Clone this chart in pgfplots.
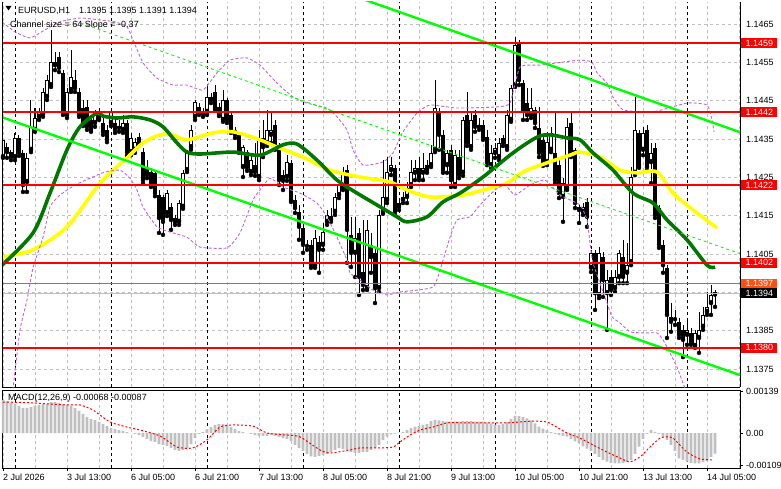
\documentclass[border=0pt]{standalone}
\usepackage{fontspec}
\setmainfont{Liberation Sans}
\usepackage{pgfplots}
\usepackage{pgfplotstable}
\pgfplotsset{compat=1.18}
\definecolor{chLime}{RGB}{0,255,0}
\definecolor{maGreen}{RGB}{0,120,0}
\definecolor{maYellow}{RGB}{255,255,0}
\definecolor{bandPurple}{RGB}{190,100,230}
\definecolor{gridGray}{RGB}{192,192,192}
\definecolor{lvlRed}{RGB}{255,0,0}
\definecolor{lvlOrange}{RGB}{255,80,20}
\definecolor{histGray}{RGB}{192,192,192}
\tikzset{lvlbox/.style={anchor=west, text=white, inner xsep=4.3pt, inner ysep=0pt, minimum height=9.6pt}}

\pgfplotstableread{
k O H L C
0 1.14303 1.14366 1.14301 1.14348
1 1.14329 1.14340 1.14301 1.14316
2 1.14316 1.14322 1.14295 1.14303
3 1.14303 1.14366 1.14295 1.14353
4 1.14353 1.14361 1.14306 1.14314
5 1.14314 1.14322 1.14212 1.14230
6 1.14238 1.14314 1.14212 1.14301
7 1.14322 1.14452 1.14316 1.14382
8 1.14374 1.14431 1.14369 1.14405
9 1.14408 1.14431 1.14400 1.14421
10 1.14413 1.14483 1.14408 1.14473
11 1.14460 1.14517 1.14452 1.14504
12 1.14491 1.14635 1.14486 1.14551
13 1.14543 1.14577 1.14530 1.14551
14 1.14564 1.14577 1.14525 1.14536
15 1.14523 1.14530 1.14413 1.14421
16 1.14413 1.14483 1.14405 1.14473
17 1.14478 1.14583 1.14473 1.14512
18 1.14504 1.14530 1.14473 1.14483
19 1.14473 1.14483 1.14408 1.14413
20 1.14431 1.14452 1.14384 1.14392
21 1.14434 1.14452 1.14374 1.14382
22 1.14400 1.14413 1.14369 1.14374
23 1.14392 1.14426 1.14382 1.14413
24 1.14405 1.14431 1.14400 1.14421
25 1.14392 1.14405 1.14361 1.14369
26 1.14374 1.14387 1.14342 1.14348
27 1.14392 1.14431 1.14384 1.14421
28 1.14392 1.14405 1.14366 1.14374
29 1.14384 1.14400 1.14369 1.14379
30 1.14374 1.14413 1.14366 1.14392
31 1.14392 1.14400 1.14308 1.14316
32 1.14316 1.14366 1.14308 1.14353
33 1.14322 1.14353 1.14314 1.14342
34 1.14355 1.14366 1.14335 1.14342
35 1.14316 1.14327 1.14235 1.14243
36 1.14277 1.14295 1.14248 1.14256
37 1.14264 1.14275 1.14225 1.14235
38 1.14262 1.14269 1.14201 1.14209
39 1.14204 1.14217 1.14105 1.14144
40 1.14199 1.14204 1.14100 1.14134
41 1.14157 1.14217 1.14149 1.14209
42 1.14173 1.14183 1.14113 1.14139
43 1.14134 1.14152 1.14126 1.14144
44 1.14134 1.14191 1.14126 1.14183
45 1.14173 1.14269 1.14168 1.14262
46 1.14269 1.14322 1.14264 1.14314
47 1.14329 1.14387 1.14322 1.14374
48 1.14408 1.14452 1.14400 1.14447
49 1.14434 1.14444 1.14413 1.14421
50 1.14421 1.14431 1.14408 1.14416
51 1.14421 1.14486 1.14413 1.14460
52 1.14452 1.14470 1.14444 1.14460
53 1.14473 1.14491 1.14426 1.14431
54 1.14434 1.14444 1.14410 1.14418
55 1.14400 1.14478 1.14395 1.14452
56 1.14452 1.14457 1.14392 1.14400
57 1.14413 1.14421 1.14366 1.14374
58 1.14374 1.14382 1.14353 1.14361
59 1.14361 1.14369 1.14314 1.14322
60 1.14277 1.14335 1.14251 1.14329
61 1.14316 1.14322 1.14267 1.14275
62 1.14264 1.14308 1.14256 1.14295
63 1.14282 1.14340 1.14254 1.14264
64 1.14251 1.14374 1.14243 1.14353
65 1.14353 1.14400 1.14303 1.14329
66 1.14340 1.14426 1.14332 1.14374
67 1.14361 1.14421 1.14340 1.14374
68 1.14387 1.14400 1.14322 1.14335
69 1.14335 1.14340 1.14230 1.14243
70 1.14256 1.14269 1.14217 1.14241
71 1.14251 1.14308 1.14241 1.14290
72 1.14288 1.14295 1.14186 1.14191
73 1.14191 1.14204 1.14157 1.14170
74 1.14160 1.14178 1.14087 1.14121
75 1.14118 1.14126 1.14053 1.14074
76 1.14074 1.14087 1.14061 1.14071
77 1.14074 1.14087 1.14014 1.14021
78 1.14021 1.14113 1.14014 1.14092
79 1.14081 1.14097 1.14001 1.14061
80 1.14074 1.14131 1.14061 1.14108
81 1.14134 1.14165 1.14126 1.14152
82 1.14139 1.14170 1.14134 1.14149
83 1.14160 1.14209 1.14152 1.14199
84 1.14204 1.14243 1.14196 1.14230
85 1.14225 1.14277 1.14217 1.14264
86 1.14269 1.14282 1.14027 1.14113
87 1.14100 1.14147 1.14016 1.14053
88 1.14053 1.14147 1.13990 1.14092
89 1.14105 1.14118 1.13943 1.13990
90 1.14003 1.14139 1.13956 1.13969
91 1.13961 1.14139 1.13956 1.14113
92 1.14074 1.14105 1.14001 1.14042
93 1.14053 1.14066 1.13922 1.13961
94 1.13961 1.14165 1.13951 1.14152
95 1.14160 1.14295 1.14155 1.14199
96 1.14191 1.14303 1.14183 1.14264
97 1.14269 1.14303 1.14256 1.14282
98 1.14275 1.14282 1.14152 1.14160
99 1.14173 1.14196 1.14165 1.14183
100 1.14191 1.14212 1.14183 1.14199
101 1.14199 1.14238 1.14183 1.14222
102 1.14230 1.14295 1.14225 1.14264
103 1.14262 1.14295 1.14243 1.14275
104 1.14275 1.14303 1.14243 1.14251
105 1.14262 1.14314 1.14243 1.14275
106 1.14282 1.14295 1.14262 1.14269
107 1.14282 1.14335 1.14277 1.14314
108 1.14322 1.14504 1.14316 1.14431
109 1.14421 1.14431 1.14322 1.14361
110 1.14361 1.14374 1.14262 1.14269
111 1.14282 1.14322 1.14262 1.14314
112 1.14322 1.14335 1.14225 1.14243
113 1.14230 1.14322 1.14225 1.14308
114 1.14303 1.14322 1.14248 1.14256
115 1.14262 1.14408 1.14254 1.14400
116 1.14413 1.14473 1.14332 1.14340
117 1.14329 1.14418 1.14322 1.14400
118 1.14413 1.14426 1.14369 1.14382
119 1.14382 1.14405 1.14374 1.14387
120 1.14387 1.14400 1.14348 1.14355
121 1.14355 1.14374 1.14282 1.14290
122 1.14282 1.14335 1.14275 1.14314
123 1.14314 1.14340 1.14301 1.14327
124 1.14303 1.14353 1.14295 1.14340
125 1.14353 1.14361 1.14332 1.14340
126 1.14329 1.14426 1.14322 1.14413
127 1.14400 1.14491 1.14395 1.14483
128 1.14491 1.14616 1.14486 1.14596
129 1.14603 1.14609 1.14491 1.14504
130 1.14496 1.14504 1.14400 1.14426
131 1.14444 1.14483 1.14400 1.14413
132 1.14413 1.14483 1.14405 1.14431
133 1.14426 1.14434 1.14379 1.14392
134 1.14379 1.14434 1.14303 1.14314
135 1.14348 1.14361 1.14280 1.14288
136 1.14290 1.14369 1.14282 1.14342
137 1.14322 1.14382 1.14316 1.14366
138 1.14314 1.14421 1.14235 1.14243
139 1.14282 1.14295 1.14196 1.14209
140 1.14199 1.14248 1.14134 1.14235
141 1.14222 1.14405 1.14217 1.14382
142 1.14392 1.14418 1.14303 1.14314
143 1.14322 1.14327 1.14170 1.14183
144 1.14173 1.14178 1.14131 1.14165
145 1.14160 1.14183 1.14152 1.14173
146 1.14186 1.14196 1.14121 1.14147
147 1.14014 1.14061 1.14003 1.14053
148 1.14053 1.14061 1.13904 1.13948
149 1.13943 1.14068 1.13935 1.14053
150 1.14042 1.14055 1.13938 1.13982
151 1.13948 1.14008 1.13852 1.13982
152 1.13990 1.14008 1.13943 1.13956
153 1.13961 1.14008 1.13951 1.13990
154 1.13990 1.14061 1.13974 1.14053
155 1.14042 1.14087 1.13974 1.13990
156 1.14001 1.14079 1.13974 1.14021
157 1.14029 1.14277 1.14021 1.14251
158 1.14262 1.14460 1.14256 1.14374
159 1.14366 1.14374 1.14275 1.14282
160 1.14322 1.14382 1.14308 1.14366
161 1.14374 1.14387 1.14269 1.14277
162 1.14290 1.14340 1.14235 1.14314
163 1.14327 1.14340 1.14144 1.14152
164 1.14170 1.14178 1.14066 1.14074
165 1.14074 1.14087 1.14001 1.14021
166 1.14014 1.14021 1.13831 1.13891
167 1.13886 1.13922 1.13847 1.13873
168 1.13883 1.13904 1.13865 1.13880
169 1.13873 1.13883 1.13831 1.13839
170 1.13852 1.13865 1.13781 1.13826
171 1.13839 1.13883 1.13813 1.13852
172 1.13844 1.13857 1.13813 1.13820
173 1.13810 1.13852 1.13805 1.13844
174 1.13831 1.13899 1.13792 1.13852
175 1.13860 1.13912 1.13852 1.13891
176 1.13899 1.13951 1.13891 1.13912
177 1.13922 1.13969 1.13891 1.13943
178 1.13950 1.13955 1.13912 1.13944
}\candles

\pgfplotstableread{
k v
0 0.00111
1 0.00107
2 0.00101
3 0.00097
4 0.00091
5 0.00084
6 0.00084
7 0.00087
8 0.00091
9 0.00094
10 0.00097
11 0.00097
12 0.00104
13 0.00104
14 0.00101
15 0.00097
16 0.00094
17 0.00091
18 0.00084
19 0.00074
20 0.00064
21 0.00054
22 0.00047
23 0.00044
24 0.00037
25 0.00030
26 0.00023
27 0.00017
28 0.00013
29 0.00010
30 0.00007
31 0.00003
32 0.00000
33 -0.00003
34 -0.00007
35 -0.00013
36 -0.00020
37 -0.00027
38 -0.00030
39 -0.00037
40 -0.00040
41 -0.00044
42 -0.00050
43 -0.00057
44 -0.00060
45 -0.00057
46 -0.00050
47 -0.00037
48 -0.00017
49 -0.00003
50 0.00003
51 0.00013
52 0.00020
53 0.00027
54 0.00030
55 0.00030
56 0.00027
57 0.00020
58 0.00013
59 0.00007
60 0.00003
61 0.00000
62 -0.00003
63 -0.00007
64 -0.00010
65 -0.00010
66 -0.00010
67 -0.00007
68 -0.00010
69 -0.00013
70 -0.00017
71 -0.00020
72 -0.00027
73 -0.00040
74 -0.00050
75 -0.00060
76 -0.00070
77 -0.00078
78 -0.00080
79 -0.00077
80 -0.00074
81 -0.00070
82 -0.00063
83 -0.00057
84 -0.00051
85 -0.00054
86 -0.00057
87 -0.00063
88 -0.00067
89 -0.00067
90 -0.00063
91 -0.00063
92 -0.00057
93 -0.00051
94 -0.00040
95 -0.00023
96 -0.00012
97 -0.00005
98 -0.00002
99 0.00001
100 0.00004
101 0.00010
102 0.00016
103 0.00021
104 0.00024
105 0.00027
106 0.00030
107 0.00040
108 0.00044
109 0.00042
110 0.00040
111 0.00038
112 0.00038
113 0.00038
114 0.00038
115 0.00040
116 0.00040
117 0.00040
118 0.00038
119 0.00038
120 0.00038
121 0.00036
122 0.00032
123 0.00028
124 0.00027
125 0.00030
126 0.00037
127 0.00047
128 0.00057
129 0.00057
130 0.00053
131 0.00049
132 0.00042
133 0.00032
134 0.00021
135 0.00015
136 0.00010
137 0.00003
138 -0.00003
139 -0.00007
140 -0.00010
141 -0.00012
142 -0.00020
143 -0.00028
144 -0.00035
145 -0.00045
146 -0.00052
147 -0.00060
148 -0.00070
149 -0.00080
150 -0.00090
151 -0.00096
152 -0.00100
153 -0.00102
154 -0.00102
155 -0.00100
156 -0.00096
157 -0.00090
158 -0.00070
159 -0.00046
160 -0.00020
161 -0.00003
162 0.00010
163 0.00004
164 -0.00004
165 -0.00012
166 -0.00023
167 -0.00040
168 -0.00060
169 -0.00085
170 -0.00090
171 -0.00096
172 -0.00100
173 -0.00102
174 -0.00102
175 -0.00098
176 -0.00094
177 -0.00080
178 -0.00069
}\macdhist

\begin{document}
\fontsize{9}{10.5}\selectfont
\begin{tikzpicture}
\useasboundingbox (0pt,0pt) rectangle (781pt,489pt);
\fill[white] (0pt,0pt) rectangle (781pt,489pt);

% ---------------- main price panel ----------------
\begin{axis}[
  at={(2pt,101.5pt)}, anchor=south west,
  scale only axis, width=738pt, height=385.5pt,
  xmin=-0.25, xmax=184.25, ymin=1.137016, ymax=1.147078,
  axis x line*=bottom, axis y line*=right,
  axis line style={black, line width=0.8pt},
  clip mode=individual,
  xtick={0,8,...,184}, xticklabels={},
  xmajorgrids, ymajorgrids,
  grid style={gridGray, line width=0.8pt, dash pattern=on 3pt off 3pt},
  major tick length=0pt,
  ytick={1.1375,1.1385,1.1395,1.1405,1.1415,1.1425,1.1435,1.1445,1.1455,1.1465},
  yticklabels={1.1375,1.1385,{},1.1405,1.1415,1.1425,1.1435,1.1445,1.1455,1.1465},
  yticklabel style={xshift=3pt},
  scaled y ticks=false,
  extra x ticks={3,27,...,171}, extra x tick labels={},
  extra x tick style={grid style={black, line width=0.8pt, dash pattern=on 3pt off 3pt}},
]
% wicks
\addplot[only marks, mark=none, error bars/.cd, y dir=plus, y explicit, error mark=none,
  error bar style={black, line width=1pt}]
  table[x=k, y=L, y error expr=\thisrow{H}-\thisrow{L}] {\candles};
% bodies
\addplot[only marks, mark=none, error bars/.cd, y dir=plus, y explicit, error mark=none,
  error bar style={black, line width=3.2pt}]
  table[x=k, y expr={min(\thisrow{O},\thisrow{C})}, y error expr={max(abs(\thisrow{C}-\thisrow{O}),0.00003)}] {\candles};
% hollow bull bodies
\addplot[only marks, mark=none, restrict expr to domain={\thisrow{C}-\thisrow{O}}{0.00006:1},
  error bars/.cd, y dir=plus, y explicit, error mark=none,
  error bar style={white, line width=1.2pt}]
  table[x=k, y expr={\thisrow{O}+0.000026}, y error expr={\thisrow{C}-\thisrow{O}-0.000052}] {\candles};

% moving averages
\addplot[maYellow, line width=3.6pt, smooth, tension=0.5] coordinates {
(-0.25,1.14042) (7.5,1.14061) (16,1.14121) (24.25,1.14235) (31,1.14301) (35,1.14340) (39.25,1.14361) (42.5,1.14361) (46,1.14348) (52.5,1.14366) (57.5,1.14369) (64.25,1.14348) (68.5,1.14329) (75,1.14303) (81.75,1.14269) (89.25,1.14251) (96.75,1.14238) (101,1.14217) (106.75,1.14199) (115,1.14204) (120,1.14217) (126,1.14235) (130,1.14264) (136,1.14288) (141.75,1.14308) (144.25,1.14316) (149.25,1.14303) (154.25,1.14269) (158.5,1.14262) (163.5,1.14264) (167.5,1.14209) (172.5,1.14165) (178.5,1.14118)};
\addplot[maGreen, line width=3.6pt, smooth, tension=0.5] coordinates {
(-0.25,1.14021) (7.5,1.14105) (11.75,1.14209) (16,1.14322) (19.25,1.14382) (23.5,1.14418) (25,1.14410) (28.5,1.14405) (32.5,1.14408) (36.75,1.14400) (40,1.14382) (43.5,1.14340) (46,1.14316) (49.25,1.14311) (57.5,1.14316) (64.25,1.14308) (70,1.14335) (73.5,1.14337) (78.5,1.14295) (83.5,1.14243) (88.5,1.14209) (93.5,1.14178) (98.5,1.14147) (101,1.14134) (106,1.14147) (110,1.14186) (114.25,1.14209) (120,1.14251) (127.5,1.14314) (133.5,1.14355) (136.75,1.14361) (141,1.14353) (144.25,1.14348) (147.5,1.14314) (152.5,1.14269) (157.5,1.14209) (162.5,1.14183) (166,1.14139) (171,1.14087) (176,1.14021) (178,1.14016)};

% bands
\addplot[bandPurple, line width=0.9pt, dash pattern=on 3pt off 2pt, smooth, tension=0.3] coordinates {
(-0.25,1.14656) (3,1.14630) (6.75,1.14614) (10.5,1.14635) (14.25,1.14656) (19.25,1.14666) (24.25,1.14661) (28,1.14656) (31,1.14643) (32.5,1.14609) (35,1.14549) (38.5,1.14509) (42.5,1.14491) (46,1.14491) (50,1.14478) (53.5,1.14523) (56.75,1.14556) (61,1.14562) (64.25,1.14543) (68.5,1.14496) (72.5,1.14460) (76,1.14444) (81,1.14431) (83.5,1.14408) (86,1.14374) (87.5,1.14322) (90,1.14282) (95,1.14290) (97.5,1.14314) (100,1.14369) (103.5,1.14418) (106.75,1.14439) (113.5,1.14431) (123.5,1.14434) (126.75,1.14444) (129.25,1.14538) (134.25,1.14543) (140,1.14551) (144.25,1.14556) (147.25,1.14551) (148.5,1.14523) (151,1.14496) (152.5,1.14460) (155,1.14426) (162.5,1.14421) (171,1.14444) (176,1.14439) (177.25,1.14400) (177.75,1.14369)};
\addplot[bandPurple, line width=0.9pt, dash pattern=on 3pt off 2pt, smooth, tension=0.3] coordinates {
(1.75,1.13669) (2.5,1.13700) (4.25,1.13852) (6,1.13930) (7.5,1.14014) (10,1.14094) (11.75,1.14173) (14.25,1.14204) (18,1.14230) (21.75,1.14248) (25.5,1.14264) (29.25,1.14269) (31.75,1.14248) (33.5,1.14217) (35,1.14173) (38.5,1.14121) (42.5,1.14105) (46,1.14094) (49.25,1.14068) (56,1.14066) (59.25,1.14105) (62.5,1.14191) (64.25,1.14217) (66.75,1.14248) (70,1.14225) (74.25,1.14209) (78.5,1.14183) (81,1.14147) (83.5,1.14094) (86,1.14034) (86.75,1.14001) (89.25,1.13982) (92.5,1.13956) (96,1.13943) (99.25,1.13951) (107.5,1.13964) (110,1.14034) (111.75,1.14094) (113.5,1.14139) (116.75,1.14147) (119.25,1.14178) (123,1.14217) (125.5,1.14230) (128,1.14204) (131.75,1.14230) (135.5,1.14243) (139.25,1.14204) (144.25,1.14178) (146,1.14139) (146.75,1.14079) (147.5,1.14027) (151,1.13922) (152.25,1.13886) (154.25,1.13870) (156.75,1.13847) (160,1.13844) (163.5,1.13844) (165,1.13826) (166.75,1.13792) (168.5,1.13755) (170,1.13713) (171.75,1.13669)};

% regression channel
\addplot[chLime, line width=2.4pt] coordinates {(80,1.14752) (184.25,1.14368)};
\addplot[chLime, line width=2.4pt] coordinates {(-0.25,1.14407) (184.25,1.13734)};
\addplot[chLime, line width=0.9pt, dash pattern=on 3pt off 3pt] coordinates {(18,1.14658) (184.25,1.14051)};

% levels
\addplot[lvlRed, line width=2.4pt] coordinates {(-0.25,1.14601) (184.25,1.14601)};
\addplot[lvlRed, line width=2.4pt] coordinates {(-0.25,1.14421) (184.25,1.14421)};
\addplot[lvlRed, line width=2.4pt] coordinates {(-0.25,1.14230) (184.25,1.14230)};
\addplot[lvlRed, line width=2.4pt] coordinates {(-0.25,1.14027) (184.25,1.14027)};
\addplot[lvlRed, line width=2.4pt] coordinates {(-0.25,1.13805) (184.25,1.13805)};
\addplot[lvlOrange, line width=1pt] coordinates {(-0.25,1.13972) (184.25,1.13972)};
\addplot[gridGray, line width=1pt] coordinates {(-0.25,1.13948) (184.25,1.13948)};

\draw[black, line width=0.8pt] (rel axis cs:0,0) -- (rel axis cs:0,1);

\node[lvlbox, fill=lvlRed] at (axis cs:184.5,1.14601) {1.1459};
\node[lvlbox, fill=lvlRed] at (axis cs:184.5,1.14421) {1.1442};
\node[lvlbox, fill=lvlRed] at (axis cs:184.5,1.14230) {1.1422};
\node[lvlbox, fill=lvlRed] at (axis cs:184.5,1.14027) {1.1402};
\node[lvlbox, fill=lvlRed] at (axis cs:184.5,1.13805) {1.1380};
\node[lvlbox, fill=lvlOrange] at (axis cs:184.5,1.13972) {1.1397};
\node[lvlbox, fill=black] at (axis cs:184.5,1.13948) {1.1394};
\end{axis}

% ---------------- MACD panel ----------------
\begin{axis}[
  at={(2pt,21pt)}, anchor=south west,
  scale only axis, width=738pt, height=78pt,
  xmin=-0.25, xmax=184.25, ymin=-0.001174, ymax=0.001443,
  axis line style={black, line width=0.8pt},
  clip mode=individual,
  xtick={0,16,...,176},
  xticklabels={2 Jul 2026,3 Jul 13:00,6 Jul 05:00,6 Jul 21:00,7 Jul 13:00,8 Jul 05:00,8 Jul 21:00,9 Jul 13:00,10 Jul 05:00,10 Jul 21:00,13 Jul 13:00,14 Jul 05:00},
  xticklabel style={anchor=north west, xshift=-3pt},
  minor xtick={8,24,...,184},
  xmajorgrids, xminorgrids,
  grid style={gridGray, line width=0.8pt, dash pattern=on 3pt off 3pt},
  minor grid style={gridGray, line width=0.8pt, dash pattern=on 3pt off 3pt},
  minor tick length=0pt, major tick length=3pt, tick align=outside,
  tick style={black, line width=0.8pt},
  xtick pos=left, ytick pos=right,
  ytick={-0.00109,0,0.00139}, yticklabels={-0.00109,0.00,0.00139},
  scaled y ticks=false, scaled x ticks=false,
  extra x ticks={3,27,...,171}, extra x tick labels={},
  extra x tick style={major tick length=0pt, grid style={black, line width=0.8pt, dash pattern=on 3pt off 3pt}},
]
\addplot[ybar, bar width=2.8pt, bar shift=0pt, fill=histGray, draw=none] table[x=k, y=v] {\macdhist};
\addplot[red, line width=1pt, dash pattern=on 2pt off 2pt, smooth, tension=0.4] coordinates {
(0,0.00104) (7.5,0.00101) (16,0.00094) (19.25,0.00094) (22.5,0.00077) (26.75,0.00037) (31,0.00020) (34.25,0.00010) (39.25,-0.00010) (43.5,-0.00047) (47.5,-0.00050) (51,-0.00023) (54.25,0.00020) (57.5,0.00027) (62.5,0.00023) (66,0.00000) (71,-0.00007) (74.25,-0.00013) (79.25,-0.00057) (81.75,-0.00067) (86.75,-0.00057) (89.25,-0.00050) (94.25,-0.00050) (97.5,-0.00047) (99.25,-0.00030) (101.75,-0.00007) (104.25,0.00010) (107.5,0.00020) (111,0.00034) (116,0.00034) (121,0.00034) (126,0.00034) (129.25,0.00037) (132.5,0.00040) (136,0.00037) (137.5,0.00027) (141,0.00000) (144.25,-0.00017) (147.5,-0.00040) (151,-0.00064) (154.25,-0.00084) (156.75,-0.00097) (159.25,-0.00080) (161.75,-0.00047) (164.25,-0.00017) (166,-0.00013) (167.5,-0.00017) (171,-0.00064) (174.25,-0.00087) (177.5,-0.00090)};
\node[anchor=north west, inner sep=0pt, xshift=6pt, yshift=-3.5pt] at (rel axis cs:0,1) {MACD(12,26,9) -0.00068 -0.00087};
\end{axis}

% ---------------- header text ----------------
\fill[black] (5.5pt,483pt) -- (11.5pt,483pt) -- (8.5pt,478.5pt) -- cycle;
\node[anchor=base west, inner sep=0pt] at (18pt,475.5pt) {EURUSD,H1\hspace{9pt}1.1395 1.1395 1.1391 1.1394};
\node[anchor=base west, inner sep=0pt] at (10pt,461.5pt) {Channel size = 64 Slope = -0.37};
\end{tikzpicture}
\end{document}
